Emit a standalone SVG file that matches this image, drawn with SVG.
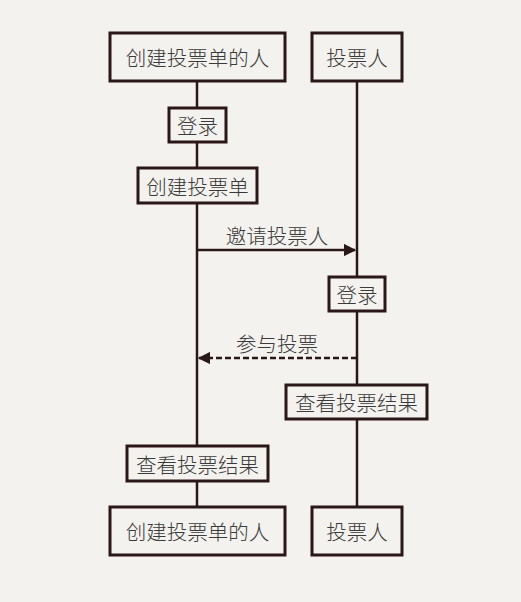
<svg xmlns="http://www.w3.org/2000/svg" width="521" height="602" viewBox="0 0 521 602">
<defs>
<style>
.bg{fill:#f4f2ee}
.box{fill:#f4f2ee;stroke:#2a1717;stroke-width:3}
.life{stroke:#2a1717;stroke-width:2.5;fill:none}
.msg{stroke:#2a1717;stroke-width:2.5;fill:none}
.dash{stroke-dasharray:6,3}
text{font-family:"Noto Sans CJK SC","Noto Sans",sans-serif;font-size:20.5px;font-weight:300;fill:#3a3a3a;text-anchor:middle;dominant-baseline:central}
</style>
<marker id="ah" viewBox="0 0 10 10" refX="9" refY="5" markerWidth="5" markerHeight="5" orient="auto" markerUnits="strokeWidth">
<path d="M0,0 L10,5 L0,10 z" fill="#2a1717"/>
</marker>
</defs>
<rect class="bg" x="0" y="0" width="521" height="602"/>
<g id="lifelines">
<line class="life" x1="197" y1="81" x2="197" y2="507"/>
<line class="life" x1="357" y1="81" x2="357" y2="507"/>
</g>
<g id="connectors">
<line class="msg" x1="197" y1="250" x2="355" y2="250" marker-end="url(#ah)"/>
<text x="277" y="235">邀请投票人</text>
<line class="msg dash" x1="357" y1="358" x2="199" y2="358" marker-end="url(#ah)"/>
<text x="277" y="343">参与投票</text>
</g>
<g id="creator-top"><rect class="box" x="110" y="33" width="175" height="48"/><text x="197.5" y="57">创建投票单的人</text></g>
<g id="voter-top"><rect class="box" x="312" y="33" width="90" height="48"/><text x="357" y="57">投票人</text></g>
<g id="login1"><rect class="box" x="169" y="108" width="57" height="34"/><text x="197.5" y="125">登录</text></g>
<g id="create"><rect class="box" x="138" y="168" width="119" height="35"/><text x="197.5" y="185.5">创建投票单</text></g>
<g id="login2"><rect class="box" x="329" y="277" width="56" height="34"/><text x="357" y="294">登录</text></g>
<g id="result-voter"><rect class="box" x="286" y="385" width="141" height="34"/><text x="356.5" y="402">查看投票结果</text></g>
<g id="result-creator"><rect class="box" x="127" y="446" width="141" height="35"/><text x="197.5" y="463.5">查看投票结果</text></g>
<g id="creator-bottom"><rect class="box" x="110" y="507" width="175" height="48"/><text x="197.5" y="531">创建投票单的人</text></g>
<g id="voter-bottom"><rect class="box" x="312" y="507" width="90" height="48"/><text x="357" y="531">投票人</text></g>
</svg>
